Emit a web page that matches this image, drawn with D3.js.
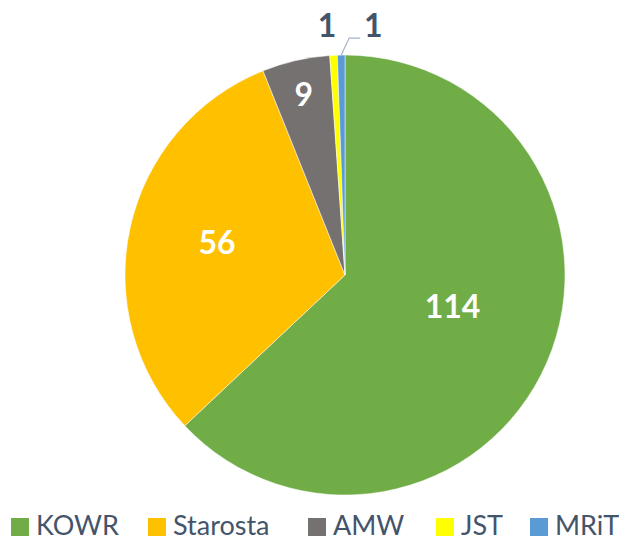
<!DOCTYPE html>
<html><head><meta charset="utf-8">
<script src="https://cdn.jsdelivr.net/npm/d3@7"></script>
<style>body{margin:0;background:#fff}svg{display:block}</style>
</head><body>
<svg id="c" width="628" height="541"></svg>
<script>
const categories = ["KOWR", "Starosta", "AMW", "JST", "MRiT"];
const values = [114, 56, 9, 1, 1];
const colors = ["#70AD47", "#FFC000", "#767171", "#FFFF00", "#5B9BD5"];

const svg = d3.select("#c");
const cx = 345, cy = 275, R = 220;
const g = svg.append("g").attr("transform", `translate(${cx},${cy})`);
const data = categories.map((c, i) => ({cat: c, v: values[i], col: colors[i]}));
const pie = d3.pie().value(d => d.v).sort(null);
const arcs = pie(data);
const arc = d3.arc().innerRadius(0).outerRadius(R);

g.selectAll("path").data(arcs).enter().append("path")
  .attr("d", arc).attr("fill", d => d.data.col)
  .attr("stroke", "#fff").attr("stroke-width", 0.5);

const inFrac = [0.51, 0.6, 0.84];
const inAng = [-0.12, 0.03, 0];
function pt(a, r) { return [Math.sin(a) * r, -Math.cos(a) * r]; }
arcs.forEach((d, i) => {
  if (i < 3) {
    const mid = (d.startAngle + d.endAngle) / 2 + inAng[i];
    const [x, y] = pt(mid, R * inFrac[i]);
    g.append("text").attr("x", x).attr("y", y).attr("dy", "0.36em")
      .attr("text-anchor", "middle").attr("fill", "#fff")
      .attr("font-family", "Lato, sans-serif").attr("font-weight", "bold")
      .attr("font-size", 32).text(d.data.v);
  }
});
// outside labels for tiny slices
const jst = arcs[3], mr = arcs[4];
{
  const mid = (jst.startAngle + jst.endAngle) / 2;
  const [x, y] = pt(mid, R + 30);
  g.append("text").attr("x", x - 5).attr("y", y).attr("dy", "0.36em")
    .attr("text-anchor", "middle").attr("fill", "#44546A")
    .attr("font-family", "Lato, sans-serif").attr("font-weight", "bold")
    .attr("font-size", 32).text(jst.data.v);
}
{
  const mid = (mr.startAngle + mr.endAngle) / 2;
  const [ox, oy] = pt(mid, R);
  const ly = oy - 17;
  const lx = ox + 30;
  g.append("polyline")
    .attr("points", `${ox},${oy} ${ox + 8},${ly} ${ox + 19},${ly}`)
    .attr("fill", "none").attr("stroke", "#A5B4C4").attr("stroke-width", 1.2);
  g.append("text").attr("x", lx + 2).attr("y", oy - 30).attr("dy", "0.36em")
    .attr("text-anchor", "middle").attr("fill", "#44546A")
    .attr("font-family", "Lato, sans-serif").attr("font-weight", "bold")
    .attr("font-size", 32).text(mr.data.v);
}

// legend
const legendX = [11, 148, 308, 436, 530];
const lg = svg.append("g");
data.forEach((d, i) => {
  lg.append("rect").attr("x", legendX[i]).attr("y", 518).attr("width", 18).attr("height", 18).attr("fill", d.col);
  lg.append("text").attr("x", legendX[i] + 25).attr("y", 535)
    .attr("fill", "#44546A").attr("font-family", "Lato, sans-serif")
    .attr("font-size", 27).text(d.cat);
});
</script>
</body></html>
